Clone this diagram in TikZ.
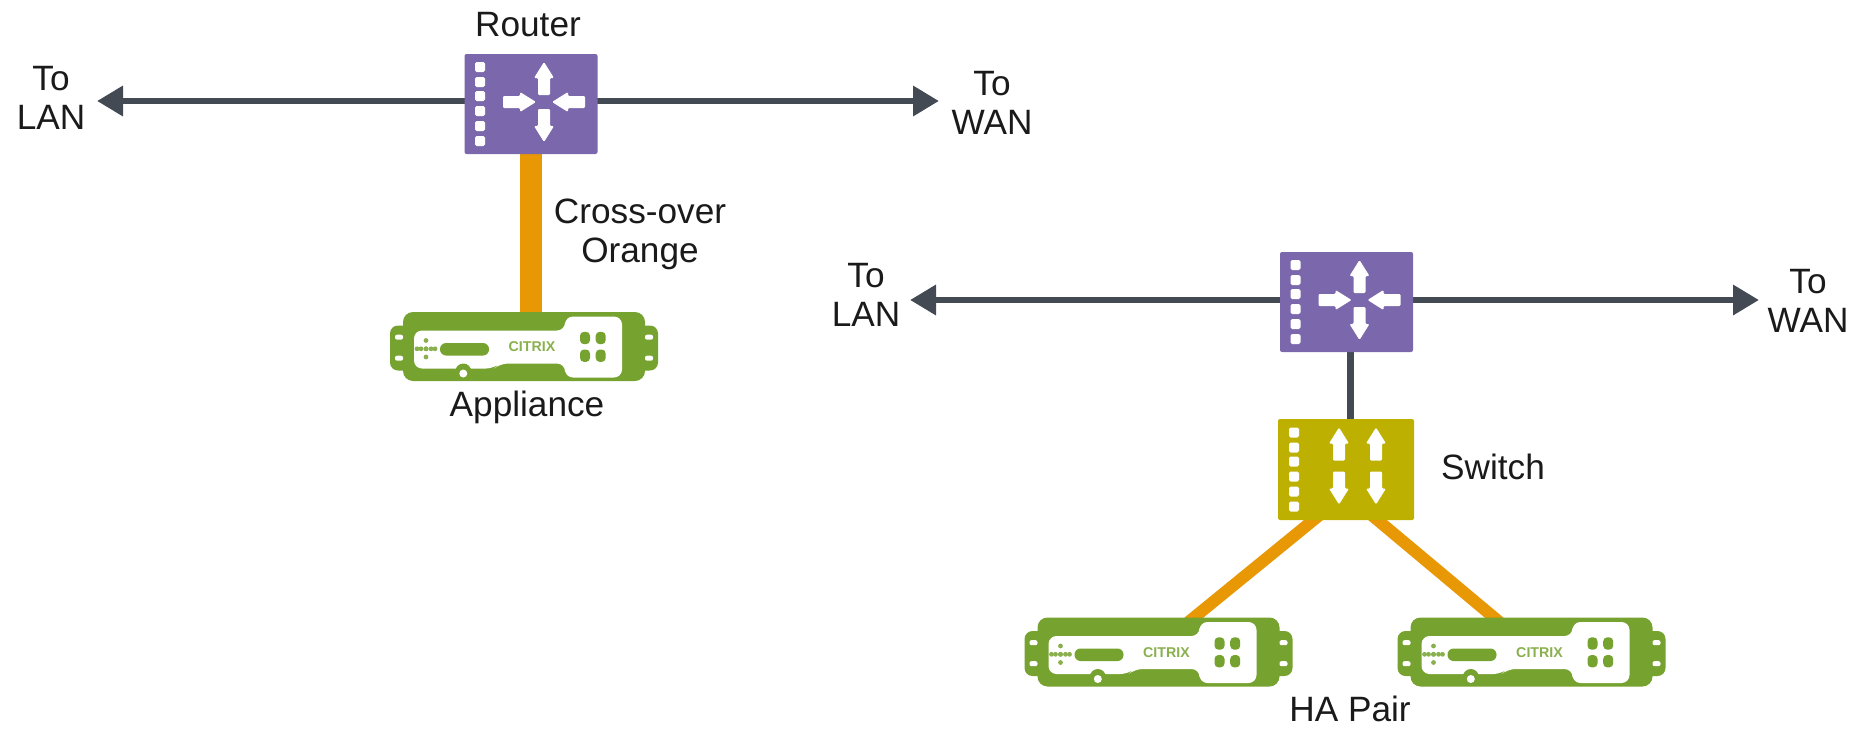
\documentclass[tikz,border=0pt]{standalone}
\usepackage{fontspec}
\setmainfont{Liberation Sans}
\usepackage{xcolor}
\usetikzlibrary{arrows.meta, backgrounds}
\definecolor{routerc}{RGB}{123, 103, 171}
\definecolor{switchc}{RGB}{189, 176, 0}
\definecolor{wirec}{RGB}{67, 74, 84}
\definecolor{crossc}{RGB}{232, 151, 5}
\definecolor{boxc}{RGB}{118, 162, 47}
\definecolor{labelc}{RGB}{26, 26, 26}
\tikzstyle{router} = [rectangle, rounded corners=1pt, minimum width=66.5pt, minimum height=50pt, inner sep=0pt, fill=routerc]
\tikzstyle{switchbox} = [rectangle, rounded corners=1pt, minimum width=68pt, minimum height=50.5pt, inner sep=0pt, fill=switchc]
\tikzstyle{appliance} = [rectangle, rounded corners=5pt, minimum width=121pt, minimum height=34.5pt, inner sep=0pt, fill=boxc]
\tikzstyle{label} = [font=\fontsize{17.6}{19.5}\selectfont, align=center, text=labelc, inner sep=0pt]
\tikzstyle{arrow} = [line width=3.4pt, wirec, -{Triangle[length=13pt, width=14.5pt]}]
\tikzstyle{wire} = [line width=3.5pt, wirec]
\tikzstyle{cross} = [crossc]
\tikzset{
    flowarrow/.pic={
        \fill[white, rounded corners=0.6pt] (-6,0) -- (-6,-17) -- (-10,-17) -- (0,-33) -- (10,-17) -- (6,-17) -- (6,0) -- cycle;
    },
    portdots/.pic={
        \foreach \y in {-37,-22,-8,7,22,37}
            \fill[white, rounded corners=0.8pt] (-5,\y-5) rectangle (5,\y+5);
    },
    routerface/.pic={
        \pic at (-51,0) {portdots};
        \pic at (13,-9) {flowarrow};
        \pic[rotate=180] at (13,5) {flowarrow};
        \pic[rotate=-90] at (-28,-2) {flowarrow};
        \pic[rotate=90] at (54,-2) {flowarrow};
    },
    switchface/.pic={
        \pic at (-52,0) {portdots};
        \foreach \x in {-7,30} {
            \pic at (\x,-9) {flowarrow};
            \pic[rotate=180] at (\x,2) {flowarrow};
        }
    },
    applianceface/.pic={
        % ears
        \fill[boxc, rounded corners=4pt] (-134,-21) rectangle (134,24);
        \foreach \x in {-125,125}
            \foreach \y in {-9.3,11.7}
                \fill[white, rounded corners=1pt] (\x-4,\y-2.5) rectangle (\x+4,\y+2.5);
        % white panel
        \fill[white, rounded corners=4pt] (-110,-16) -- (41,-16) -- (41,-30) -- (98,-30) -- (98,31) -- (41,31) -- (41,17) -- (-24,17) -- (-30,22) -- (-110,22) -- cycle;
        % bottom notch
        \fill[boxc] (-60.7,25) circle (8);
        \fill[white] (-60.7,27) circle (4);
        % display and dots
        \fill[boxc, rounded corners=3pt] (-84,-3.5) rectangle (-35,9);
        \foreach \x/\y in {-98/-6,-98/2.3,-98/10.5,-107/2.3,-103/2.3,-98/2.3,-93/2.3,-89/2.3}
            \fill[boxc!85] (\x,\y) circle (2.4);
        \node[font=\bfseries\fontsize{7.1}{7}\selectfont, text=boxc!85, inner sep=0pt] (logo) at (8,0.3) {CITRIX};
        % buttons
        \foreach \x in {56,71.7}
            \foreach \y in {-14.7,3}
                \fill[boxc, rounded corners=2pt] (\x,\y) rectangle ++(10,12.4);
    }
}

\begin{document}
\begin{tikzpicture}[x=0.5pt, y=-0.5pt]
    \useasboundingbox (0,0) rectangle (1857,728);

    % Left setup
    \node[router] (routerA) at (531,104) {};
    \pic (faceA) at (routerA) {routerface};
    \node[appliance] (applA) at (524,346.5) {};
    \pic (faceB) at (applA) {applianceface};
    \coordinate (lanA) at (97,101);
    \coordinate (wanA) at (939,101);

    % Right setup
    \node[router] (routerB) at (1346.5,302) {};
    \pic (faceC) at (routerB) {routerface};
    \node[switchbox] (switch) at (1346,469.5) {};
    \pic (faceD) at (switch) {switchface};
    \node[appliance] (applB) at (1158.5,652) {};
    \pic (faceE) at (applB) {applianceface};
    \node[appliance] (applC) at (1531.5,652) {};
    \pic (faceF) at (applC) {applianceface};
    \coordinate (lanB) at (910,300);
    \coordinate (wanB) at (1759,300);

    % Connections
    \begin{scope}[on background layer]
        \draw[arrow] (routerA.center |- lanA) -- (lanA);
        \draw[arrow] (routerA.center |- wanA) -- (wanA);
        \draw[cross, line width=11pt] (routerA.south) -- (routerA.south |- applA.north);
        \draw[arrow] (routerB.center |- lanB) -- (lanB);
        \draw[arrow] (routerB.center |- wanB) -- (wanB);
        \draw[wire] ([xshift=1.75pt]routerB.south) -- ([xshift=1.75pt]routerB.south |- switch.north);
        \draw[cross, line width=6pt, shorten <=-4pt, shorten >=-4pt] ([xshift=-16.5pt]switch.south) -- ([xshift=18pt]applB.north);
        \draw[cross, line width=6pt, shorten <=-4pt, shorten >=-4pt] ([xshift=16pt]switch.south) -- ([xshift=-19pt]applC.north);
    \end{scope}

    % Labels
    \node[label] (tRouter) at (528,25) {Router};
    \node[label] (tLanA) at (51,98) {To\\LAN};
    \node[label] (tWanA) at (992,103) {To\\WAN};
    \node[label] (tCross) at (640,234) {Cross-over\\Orange};
    \node[label] (tAppl) at (527,407) {Appliance};
    \node[label] (tLanB) at (866,295) {To\\LAN};
    \node[label] (tWanB) at (1808,301) {To\\WAN};
    \node[label] (tSwitch) at (1493,467) {Switch};
    \node[label] (tPair) at (1350,709) {HA Pair};
\end{tikzpicture}
\end{document}
